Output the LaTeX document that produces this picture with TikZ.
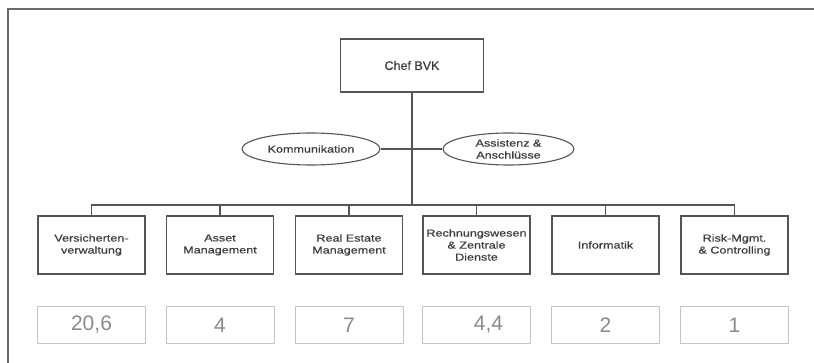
\documentclass[tikz,border=0pt]{standalone}
\usepackage{fontspec}
\setmainfont{Liberation Sans}
\newfontfamily\boxfont[FakeStretch=1.26,FakeBold=0.6]{Liberation Sans}
\newfontfamily\cheffont[FakeBold=0.6]{Liberation Sans}
\usetikzlibrary{shapes.geometric}
\definecolor{framegray}{HTML}{6A6A6A}
\definecolor{linegray}{HTML}{555555}
\definecolor{textgray}{HTML}{3C3C3C}
\definecolor{valgray}{HTML}{8A8A8A}
\definecolor{valborder}{HTML}{C4C4C4}
\tikzset{
  orgbox/.style={draw=linegray, line width=1.3pt, rectangle, minimum width=107pt, minimum height=58pt, inner sep=0pt, align=center, font=\boxfont\fontsize{10}{12}\selectfont, text=textgray},
  chefbox/.style={orgbox, minimum width=143pt, minimum height=53pt, font=\cheffont\fontsize{12.5}{14}\selectfont},
  staffoval/.style={draw=linegray, line width=1.1pt, ellipse, inner sep=0pt, align=center, font=\boxfont\fontsize{10}{12}\selectfont, text=textgray},
  valbox/.style={draw=valborder, line width=0.9pt, rectangle, minimum width=108pt, minimum height=37pt, inner sep=0pt, font=\fontsize{21}{24}\selectfont, text=valgray},
  conn/.style={draw=linegray, line width=1.2pt},
}
\begin{document}
\begin{tikzpicture}[x=1pt,y=-1pt]
\useasboundingbox (0,0) rectangle (814,363);
\draw[framegray, line width=2pt] (8,363) -- (8,9) -- (814,9);

\node[chefbox] (chef) at (412,65.5) {Chef BVK};
\node[staffoval, minimum width=138pt, minimum height=32pt] (komm) at (311,149) {Kommunikation};
\node[staffoval, minimum width=131pt, minimum height=32pt] (assist) at (508.5,149) {Assistenz \&\\Anschlüsse};

\node[orgbox] (b1) at (91.5,245) {Versicherten-\\verwaltung};
\node[orgbox] (b2) at (220,245) {Asset\\Management};
\node[orgbox] (b3) at (349,245) {Real Estate\\Management};
\node[orgbox] (b4) at (476.5,245) {Rechnungswesen\\\& Zentrale\\Dienste};
\node[orgbox] (b5) at (605.5,245) {Informatik};
\node[orgbox] (b6) at (734.5,245) {Risk-Mgmt.\\\& Controlling};

\node[valbox] (v1) at (91.5,325) {20,6};
\node[valbox] (v2) at (220,325) {4};
\node[valbox] (v3) at (349,325) {7};
\node[valbox, text width=108pt, align=center] (v4) at (476.5,325) {\hspace*{24pt}4,4};
\node[valbox] (v5) at (605.5,325) {2};
\node[valbox] (v6) at (734.5,325) {1};

\coordinate (bus) at (412,205);
\draw[conn] (chef.south) -- (bus);
\draw[conn] (komm.east) -- (assist.west);
\draw[conn] (b1.north) -- (b1.north |- bus) -- (b6.north |- bus) -- (b6.north);
\foreach \b in {b2,b3,b4,b5}{
  \draw[conn] (\b.north) -- (\b.north |- bus);
}
\end{tikzpicture}
\end{document}
